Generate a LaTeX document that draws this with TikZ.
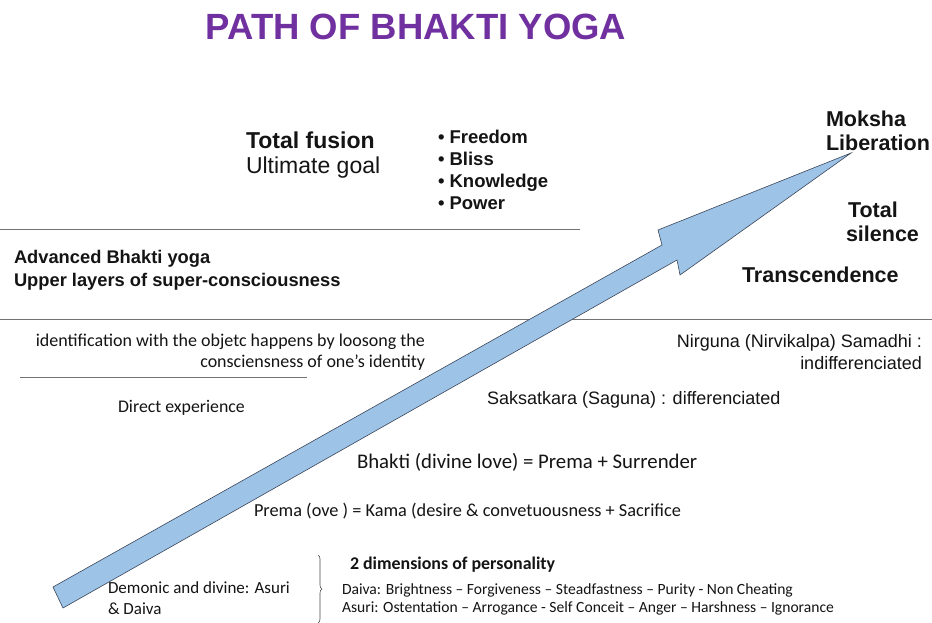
\documentclass[tikz,border=0pt]{standalone}
\usepackage{fontspec}
\setmainfont{Liberation Sans}
\newfontfamily\calib{Carlito}
\usetikzlibrary{decorations.pathreplacing}
\definecolor{titlepurple}{RGB}{112,48,160}
\definecolor{arrowfill}{RGB}{157,195,230}
\definecolor{arrowline}{RGB}{60,70,90}
\definecolor{txt}{RGB}{20,20,20}
\begin{document}
\begin{tikzpicture}[x=1pt,y=-1pt,
  every node/.style={inner sep=0pt,outer sep=0pt,text=txt},
  ttl/.style={font=\fontsize{36.5}{40}\selectfont\bfseries,text=titlepurple},
  big/.style={font=\fontsize{23}{26}\selectfont},
  bigb/.style={font=\fontsize{21.5}{24.5}\selectfont\bfseries},
  bul/.style={font=\fontsize{18.5}{22}\selectfont\bfseries,align=left},
  adv/.style={font=\fontsize{18.3}{23}\selectfont\bfseries,align=left},
  ari/.style={font=\fontsize{18}{22}\selectfont},
  cal/.style={font=\calib\fontsize{18}{21}\selectfont},
  sep/.style={draw=black!55,line width=0.8pt}]
\useasboundingbox (0,0) rectangle (932,623);
\fill[white] (0,0) rectangle (932,623);
% separator lines
\draw[sep] (0,229) -- (580,229);
\draw[sep] (0,319) -- (932,319);
\draw[sep] (20,377) -- (307,377);
% arrow
\draw[fill=arrowfill,draw=arrowline,line width=0.6pt,line join=miter]
  (53,587) -- (662,245) -- (658,230) -- (851,153) -- (680,275) -- (677,260) -- (63,608) -- cycle;
% title
\node[ttl,anchor=center] (title) at (416,27) {PATH OF BHAKTI YOGA};
% top block
\node[bigb,anchor=west,font=\fontsize{23}{26}\selectfont\bfseries] (fusion) at (246,140) {Total fusion};
\node[big,anchor=west] (goal) at (246,168) {Ultimate goal};
\node[bul,anchor=west] (bullets) at (438,170) {• Freedom\\• Bliss\\• Knowledge\\• Power};
\node[bigb,anchor=west,align=left] (moksha) at (826,131) {Moksha\\Liberation};
\node[bigb,anchor=west,align=left] (silence) at (846,222) {\hspace{2pt}Total\\silence};
\node[bigb,anchor=west] (trans) at (742,275) {Transcendence};
\node[adv,anchor=west] (adv) at (14,270) {Advanced Bhakti yoga\\Upper layers of super-consciousness};
% middle block
\node[cal,anchor=east,align=right] (ident) at (425,352) {identification with the objetc happens by loosong the\\consciensness of one’s identity};
\node[cal,anchor=west,font=\calib\fontsize{17.8}{20}\selectfont] (direct) at (118,408) {Direct experience};
\node[ari,anchor=east,align=right] (nirguna) at (922,352) {Nirguna (Nirvikalpa) Samadhi :\\indifferenciated};
\node[ari,anchor=west] (saks) at (487,400) {Saksatkara (Saguna) : differenciated};
\node[cal,anchor=west,font=\calib\fontsize{20.8}{24}\selectfont] (bhakti) at (357,462) {Bhakti (divine love) = Prema + Surrender};
\node[cal,anchor=west,font=\calib\fontsize{18.3}{21}\selectfont] (prema) at (254,511) {Prema (ove ) = Kama (desire \& convetuousness + Sacrifice};
% bottom block
\node[cal,anchor=west,align=left,font=\calib\fontsize{17}{21}\selectfont] (demonic) at (108,598) {Demonic and divine: Asuri\\\& Daiva};
\coordinate (bt) at (318,555);
\coordinate (bb) at (318,623);
\draw[black!70,line width=0.6pt,decorate,decoration={brace,amplitude=4pt}] (bt) -- (bb);
\node[anchor=west,font=\calib\fontsize{17.9}{20}\selectfont\bfseries] (dims) at (350,565) {2 dimensions of personality};
\node[anchor=west,align=left,font=\calib\fontsize{15.6}{18}\selectfont] (lists) at (342,599) {Daiva: Brightness – Forgiveness – Steadfastness – Purity - Non Cheating\\Asuri: Ostentation – Arrogance - Self Conceit – Anger – Harshness – Ignorance};
\end{tikzpicture}
\end{document}
